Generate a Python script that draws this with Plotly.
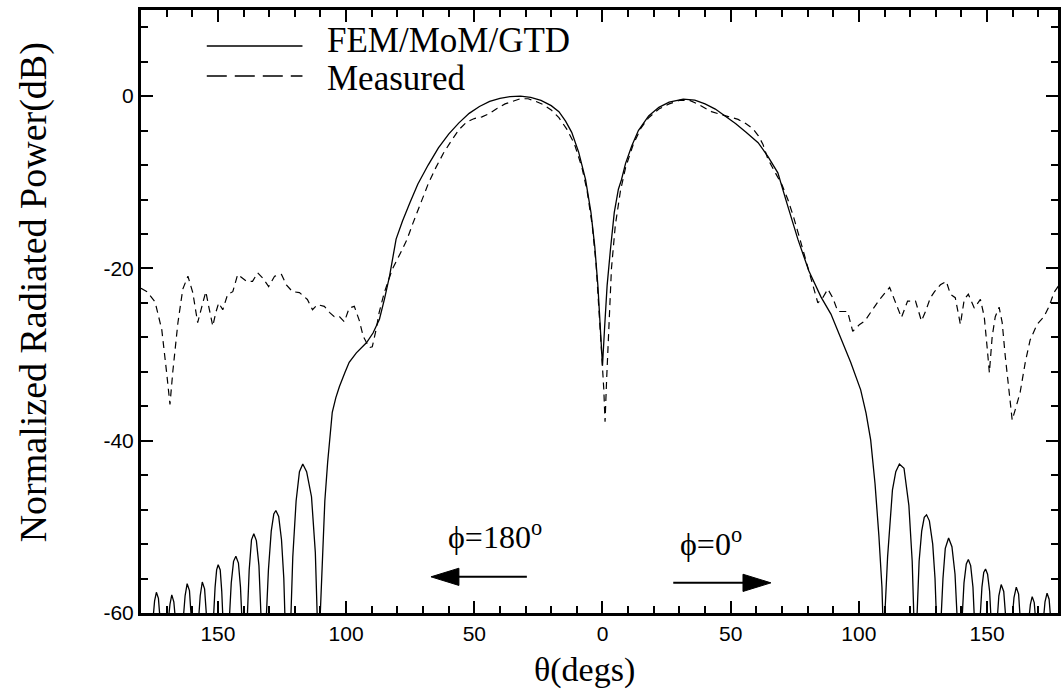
import plotly.graph_objects as go

# ---------------- data ----------------
# FEM/MoM/GTD computed pattern: theta (deg, phi=180 side negative), dB
calc_left_lobes_theta = [-180, -175.4, -174.7, -174.0, -173.2, -172.5,
                         -169.4, -168.7, -168.0, -167.2, -166.5,
                         -163.6, -162.8, -162.0, -161.1, -160.3,
                         -157.6, -156.9, -156.1, -155.2, -154.3,
                         -151.8, -151.1, -150.5, -149.9, -149.1, -148.5, -148.0,
                         -145.6, -144.8, -143.9, -143.0, -142.0, -141.2, -140.6,
                         -138.6, -137.8, -136.9, -136.0, -135.0, -134.0, -133.1,
                         -131.2, -130.3, -129.2, -128.2, -127.4, -126.3, -125.2, -124.3, -123.8,
                         -121.6, -120.8, -119.5, -118.2, -116.9, -115.4, -113.5, -112.0, -111.2]
calc_left_lobes_db = [-61, -61, -58.6, -57.6, -58.3, -61,
                      -61, -59.0, -57.9, -58.7, -61,
                      -61, -58.0, -56.6, -57.4, -61,
                      -61, -58.0, -56.4, -57.2, -61,
                      -61, -57.0, -55.0, -54.4, -55.0, -57.5, -61,
                      -61, -56.5, -54.0, -53.4, -54.2, -57.0, -61,
                      -61, -55.0, -51.5, -50.8, -51.6, -54.5, -61,
                      -61, -55.0, -50.5, -48.5, -48.1, -48.8, -51.5, -56.0, -61,
                      -61, -53.5, -47.0, -43.6, -42.7, -43.6, -46.5, -53.0, -61]

calc_main_theta = [-110.2, -109.5, -108.3, -107.2, -106.5, -105.4, -104.0, -102.6, -100.5, -98.8,
                   -96.0, -93.5, -92.0, -89.5, -87.0, -85.0, -83.0, -80.5, -78.0, -75.0,
                   -72.0, -68.0, -64.0, -60.0, -56.0, -52.0, -48.0, -44.0, -40.0, -36.0,
                   -32.0, -28.0, -24.0, -20.0, -17.0, -14.4, -12.0, -9.3, -6.6, -4.5,
                   -3.0, -1.8, -0.8, 0.0, 0.8, 1.8, 3.1, 4.6, 6.2, 7.4,
                   9.0, 11.4, 14.0, 18.0, 22.0, 26.0, 31.5, 36.0, 40.0, 44.0,
                   47.8, 52.0, 56.0, 60.7, 64.5, 68.4, 72.0, 76.2, 80.5, 85.2,
                   89.1, 92.5, 96.8, 100.7, 102.8, 104.6, 106.3, 107.8, 109.0, 109.4]
calc_main_db = [-61, -55.0, -47.0, -42.5, -39.9, -36.7, -35.0, -33.7, -32.1, -30.9,
                -29.8, -29.0, -28.6, -27.5, -25.9, -23.5, -20.8, -16.6, -14.5, -12.3,
                -10.2, -8.0, -6.0, -4.4, -3.1, -2.0, -1.2, -0.6, -0.25, -0.05,
                0.0, -0.15, -0.5, -1.1, -1.8, -2.9, -4.2, -6.5, -9.7, -13.5,
                -17.5, -22.0, -27.0, -31.3, -27.0, -22.0, -17.8, -13.5, -10.8, -9.7,
                -7.8, -5.8, -4.0, -2.3, -1.3, -0.7, -0.35, -0.45, -0.9, -1.5,
                -2.3, -3.2, -4.2, -5.4, -7.0, -8.9, -12.5, -16.6, -20.3, -23.3,
                -25.3, -27.8, -30.9, -34.1, -36.8, -39.9, -45.0, -51.0, -57.0, -61]

calc_right_lobes_theta = [110.0, 111.2, 113.1, 114.4, 115.8, 117.6, 119.5, 120.8, 121.5,
                          122.6, 123.5, 124.5, 125.5, 126.4, 127.5, 128.8, 129.7, 130.3,
                          132.0, 132.8, 133.7, 135.0, 136.3, 137.5, 138.4,
                          140.2, 141.0, 141.9, 142.7, 143.6, 144.5, 145.1,
                          147.2, 148.0, 148.7, 149.4, 150.2, 151.0, 151.6,
                          153.9, 154.6, 155.5, 156.5, 157.4,
                          159.7, 160.5, 161.4, 162.3, 163.0,
                          166.2, 166.9, 167.6, 168.4, 169.0,
                          171.9, 172.6, 173.4, 174.2, 174.9, 180]
calc_right_lobes_db = [-61, -53.5, -45.7, -43.6, -42.7, -43.2, -47.5, -54.0, -61,
                       -61, -54.0, -50.5, -48.9, -48.6, -49.3, -52.0, -56.0, -61,
                       -61, -56.0, -52.5, -51.3, -52.3, -55.5, -61,
                       -61, -56.5, -54.3, -53.8, -54.5, -57.0, -61,
                       -61, -57.0, -55.3, -54.9, -55.5, -57.5, -61,
                       -61, -58.0, -56.7, -57.5, -61,
                       -61, -58.2, -57.0, -57.8, -61,
                       -61, -59.0, -58.1, -58.8, -61,
                       -61, -58.7, -57.7, -58.4, -61, -61]

# Measured pattern
meas_left_theta = [-180, -177.6, -174.5, -171.9, -170.0, -168.7, -167.6, -165.6, -163.7, -161.7,
                   -159.8, -157.9, -155.9, -154.7, -153.6, -152.0, -150.8, -149.7, -148.1, -146.2,
                   -144.2, -142.3, -138.8, -136.5, -134.5, -132.6, -130.2, -127.9, -125.2, -123.3,
                   -120.9, -118.2, -115.1, -113.1, -111.2, -108.5, -106.5, -104.6, -102.6, -100.7,
                   -98.8, -96.8, -94.9, -93.3, -91.0, -89.8, -88.3, -87.1, -85.1, -82.0,
                   -78.1, -76.2]
meas_left_db = [-22.3, -22.7, -23.9, -27.1, -32.1, -35.8, -32.0, -26.3, -22.4, -20.9,
                -22.8, -26.3, -24.0, -22.7, -24.4, -26.7, -25.1, -24.0, -24.8, -23.0,
                -22.7, -20.7, -21.5, -21.5, -20.5, -21.1, -22.1, -20.9, -20.7, -21.9,
                -22.7, -22.8, -23.6, -24.8, -24.2, -24.4, -25.1, -25.6, -25.6, -26.2,
                -24.6, -24.4, -26.0, -27.9, -29.2, -29.1, -27.1, -25.1, -22.8, -20.1,
                -17.8, -16.6]

meas_main_theta = [-74.0, -71.0, -68.0, -65.0, -62.0, -59.0, -56.0, -53.0, -50.0, -47.0,
                   -44.0, -41.0, -38.0, -35.0, -32.0, -29.0, -26.0, -23.0, -20.0, -17.0,
                   -14.0, -11.0, -8.0, -6.0, -4.0, -2.5, -1.2, -0.3, 0.5, 1.0,
                   1.6, 2.5, 3.5, 5.0, 7.0, 9.0, 12.0, 15.0, 18.0, 22.0,
                   26.0, 30.0, 34.0, 37.0, 39.3, 42.5, 45.9, 49.0, 52.9, 56.0,
                   58.7, 60.8, 62.6, 64.5, 67.3, 70.0, 72.3, 74.5]
meas_main_db = [-14.8, -12.5, -10.2, -8.3, -6.6, -5.2, -3.9, -3.0, -2.6, -2.4,
                -2.0, -1.4, -0.9, -0.6, -0.3, -0.3, -0.6, -1.0, -1.6, -2.5,
                -3.8, -5.5, -8.3, -11.0, -15.0, -19.5, -25.0, -30.0, -34.0, -37.8,
                -33.0, -26.0, -20.0, -15.0, -11.0, -8.3, -5.6, -3.7, -2.5, -1.5,
                -0.9, -0.5, -0.5, -0.9, -1.3, -1.8, -2.1, -2.4, -2.7, -3.2,
                -3.8, -4.6, -5.6, -7.3, -8.8, -10.3, -12.0, -14.0]

meas_right_theta = [77.0, 78.9, 81.3, 83.2, 84.0, 85.9, 87.9, 89.8, 91.8, 95.6,
                    97.6, 100.3, 102.3, 104.6, 108.1, 112.0, 113.9, 116.6, 119.0, 122.1,
                    124.4, 126.0, 127.9, 129.5, 131.8, 134.1, 135.7, 137.6, 139.6, 141.1,
                    142.7, 145.0, 147.4, 148.9, 150.1, 150.9, 152.0, 153.2, 154.7, 155.9,
                    157.1, 158.6, 159.8, 161.0, 162.9, 164.9, 166.8, 169.5, 172.2, 174.2,
                    176.1, 177.7, 180]
meas_right_db = [-16.6, -18.6, -21.0, -23.0, -24.0, -23.4, -22.4, -23.4, -25.0, -25.0,
                 -27.3, -26.5, -26.1, -25.1, -23.6, -22.2, -23.6, -25.7, -23.8, -23.8,
                 -26.1, -25.0, -23.4, -22.7, -21.9, -21.5, -23.0, -23.4, -26.5, -23.6,
                 -23.0, -24.6, -23.6, -25.6, -29.4, -32.1, -27.9, -25.6, -24.5, -26.3,
                 -30.2, -34.4, -37.6, -36.4, -34.4, -30.9, -28.3, -26.5, -25.6, -24.4,
                 -22.8, -22.1, -21.5]

tick_vals = [-150, -100, -50, 0, 50, 100, 150]
tick_text = ["150", "100", "50", "0", "50", "100", "150"]

calc_theta = calc_left_lobes_theta + calc_main_theta + calc_right_lobes_theta
calc_db = calc_left_lobes_db + calc_main_db + calc_right_lobes_db
meas_theta = meas_left_theta + meas_main_theta + meas_right_theta
meas_db = meas_left_db + meas_main_db + meas_right_db

# ---------------- figure ----------------
SERIF = "Liberation Serif, Times New Roman, serif"
SANS = "Liberation Sans, Arial, sans-serif"

fig = go.Figure()
fig.add_trace(go.Scatter(x=calc_theta, y=calc_db, mode="lines", name="FEM/MoM/GTD",
                         line=dict(color="black", width=1.3), showlegend=False))
fig.add_trace(go.Scatter(x=meas_theta, y=meas_db, mode="lines", name="Measured",
                         line=dict(color="black", width=1.2, dash="7px,5px"), showlegend=False))

L, T, R, B = 141, 10, 1061, 613
PW, PH = R - L, B - T


def px(xp):
    return (xp - L) / PW


def py(yp):
    return (B - yp) / PH


# manual legend
fig.add_shape(type="line", xref="paper", yref="paper", x0=px(207), x1=px(303), y0=py(46), y1=py(46),
              line=dict(color="black", width=1.3))
fig.add_shape(type="line", xref="paper", yref="paper", x0=px(207), x1=px(303), y0=py(76), y1=py(76),
              line=dict(color="black", width=1.3, dash="20px,8px"))
fig.add_annotation(xref="paper", yref="paper", x=px(326), y=py(41), text="FEM/MoM/GTD",
                   showarrow=False, xanchor="left", yanchor="middle",
                   font=dict(family=SERIF, size=35, color="black"))
fig.add_annotation(xref="paper", yref="paper", x=px(326), y=py(78), text="Measured",
                   showarrow=False, xanchor="left", yanchor="middle",
                   font=dict(family=SERIF, size=35, color="black"))

# axis titles
fig.add_annotation(xref="paper", yref="paper", x=px(33), y=py(292), text="Normalized Radiated Power(dB)",
                   showarrow=False, textangle=-90, xanchor="center", yanchor="middle",
                   font=dict(family=SERIF, size=38, color="black"))
fig.add_annotation(xref="paper", yref="paper", x=px(586), y=py(670), text="θ(degs)",
                   showarrow=False, xanchor="center", yanchor="middle",
                   font=dict(family=SERIF, size=34, color="black"))

# phi labels and arrows
fig.add_annotation(x=-42.0, y=-50.9, text="ϕ=180<sup>o</sup>", showarrow=False,
                   font=dict(family=SERIF, size=32, color="black"))
fig.add_annotation(x=42.5, y=-51.8, text="ϕ=0<sup>o</sup>", showarrow=False,
                   font=dict(family=SERIF, size=32, color="black"))
fig.add_shape(type="line", x0=-29.5, x1=-57.0, y0=-55.8, y1=-55.8, line=dict(color="black", width=2))
fig.add_shape(type="path", path="M -66.9 -55.8 L -56 -54.8 L -56 -56.8 Z",
              fillcolor="black", line=dict(color="black", width=1))
fig.add_shape(type="line", x0=27.6, x1=56.0, y0=-56.5, y1=-56.5, line=dict(color="black", width=2))
fig.add_shape(type="path", path="M 65.7 -56.5 L 54.8 -55.5 L 54.8 -57.5 Z",
              fillcolor="black", line=dict(color="black", width=1))

fig.update_layout(
    width=1061, height=696,
    margin=dict(l=L, r=1061 - R, t=T, b=696 - B, pad=0),
    paper_bgcolor="white", plot_bgcolor="white",
    showlegend=False,
)
fig.update_xaxes(range=[-180, 180 - (1067 - 1061) / 2.572], showgrid=False, zeroline=False,
                 showline=True, linecolor="black", linewidth=3, mirror="ticks",
                 ticks="inside", ticklen=12, tickwidth=1.5, tickcolor="black",
                 tickvals=tick_vals, ticktext=tick_text,
                 tickfont=dict(family=SANS, size=21, color="black"),
                 minor=dict(ticks="inside", ticklen=7, tickwidth=1.5, tickcolor="black",
                            dtick=10, tick0=0, showgrid=False))
fig.update_yaxes(range=[-60, 10], showgrid=False, zeroline=False,
                 showline=True, linecolor="black", linewidth=3, mirror="ticks",
                 ticks="inside", ticklen=12, tickwidth=1.5, tickcolor="black",
                 tickvals=[-60, -40, -20, 0], ticktext=["-60", "-40", "-20", "0"],
                 tickfont=dict(family=SANS, size=21, color="black"),
                 minor=dict(ticks="inside", ticklen=7, tickwidth=1.5, tickcolor="black",
                            dtick=4, tick0=0, showgrid=False))

fig.write_html("out.html", config={"displayModeBar": False},
               post_script="document.body.style.margin='0';document.body.style.overflow='hidden';")
